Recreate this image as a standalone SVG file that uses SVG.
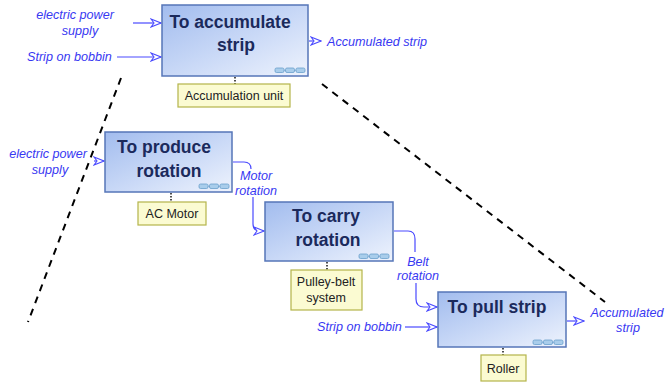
<svg xmlns="http://www.w3.org/2000/svg" width="665" height="385" viewBox="0 0 665 385">
<defs>
  <linearGradient id="boxg" x1="0" y1="0" x2="1" y2="1">
    <stop offset="0" stop-color="#a2bcee"/>
    <stop offset="0.55" stop-color="#cbdaf7"/>
    <stop offset="1" stop-color="#eef3fd"/>
  </linearGradient>
  <marker id="ah" viewBox="0 0 12 10" refX="11" refY="5" markerWidth="12" markerHeight="10" markerUnits="userSpaceOnUse" orient="auto">
    <path d="M1,1 L11,5 L1,9 L4,5 Z" fill="#fff" stroke="#4a4aff" stroke-width="1.1" stroke-linejoin="miter"/>
  </marker>
  <g id="icon">
    <rect x="0" y="0" width="9" height="4.5" rx="1.5" fill="#a9cdeb" stroke="#6aa0cc" stroke-width="0.8"/>
    <rect x="10.5" y="0" width="9" height="4.5" rx="1.5" fill="#a9cdeb" stroke="#6aa0cc" stroke-width="0.8"/>
    <rect x="21" y="0" width="9" height="4.5" rx="1.5" fill="#a9cdeb" stroke="#6aa0cc" stroke-width="0.8"/>
    <line x1="9" y1="2.2" x2="10.5" y2="2.2" stroke="#6aa0cc" stroke-width="0.8"/>
    <line x1="19.5" y1="2.2" x2="21" y2="2.2" stroke="#6aa0cc" stroke-width="0.8"/>
  </g>
</defs>
<style>
  .fn { fill: url(#boxg); stroke: #5676b8; stroke-width: 1.5; }
  .title { font-family: "Liberation Sans", Arial, sans-serif; font-weight: bold; font-size: 17.5px; fill: #1b2a5c; text-anchor: middle; }
  .res { fill: #fbfbd2; stroke: #b4b44a; stroke-width: 1.2; }
  .rtext { font-family: "Liberation Sans", Arial, sans-serif; font-size: 12.5px; fill: #222; text-anchor: middle; }
  .flow { font-family: "Liberation Sans", Arial, sans-serif; font-style: italic; font-size: 12.6px; fill: #3838f2; }
  .arr { fill: none; stroke: #4a4aff; stroke-width: 1.2; }
  .dot { stroke: #222; stroke-width: 1.6; stroke-dasharray: 1.5 1.5; }
  .dash { fill: none; stroke: #000; stroke-width: 2; stroke-dasharray: 7 6; }
</style>

<g id="connectors">
  <line class="dash" x1="121" y1="78" x2="28" y2="322"/>
  <line class="dash" x1="322" y1="84" x2="605" y2="302"/>
  <path class="arr" d="M133,23 H161" marker-end="url(#ah)"/>
  <path class="arr" d="M117,57 H161" marker-end="url(#ah)"/>
  <path class="arr" d="M309,41 H321" marker-end="url(#ah)"/>
  <path class="arr" d="M94,161 H104" marker-end="url(#ah)"/>
  <path class="arr" d="M233,162 H244 Q251,162 251,169"/>
  <path class="arr" d="M253,197 V224 Q253,231 260,231 H264" marker-end="url(#ah)"/>
  <path class="arr" d="M394,231 H408 Q415,231 415,239 V252"/>
  <path class="arr" d="M416,283 V299 Q416,307 424,307 H437" marker-end="url(#ah)"/>
  <path class="arr" d="M405,327 H437" marker-end="url(#ah)"/>
  <path class="arr" d="M567,321 H584" marker-end="url(#ah)"/>
  <line class="dot" x1="235" y1="77" x2="235" y2="84"/>
  <line class="dot" x1="171" y1="193" x2="171" y2="202"/>
  <line class="dot" x1="327" y1="262" x2="327" y2="270"/>
  <line class="dot" x1="503" y1="348" x2="503" y2="355"/>
</g>

<g id="flow-labels">
  <text class="flow" x="75" y="19" text-anchor="middle">electric power</text>
  <text class="flow" x="80" y="35" text-anchor="middle">supply</text>
  <text class="flow" x="27" y="61">Strip on bobbin</text>
  <text class="flow" x="327" y="46">Accumulated strip</text>
  <text class="flow" x="48" y="158" text-anchor="middle">electric power</text>
  <text class="flow" x="50" y="174" text-anchor="middle">supply</text>
  <text class="flow" x="256" y="180" text-anchor="middle">Motor</text>
  <text class="flow" x="256" y="195" text-anchor="middle">rotation</text>
  <text class="flow" x="418" y="266" text-anchor="middle">Belt</text>
  <text class="flow" x="418" y="280" text-anchor="middle">rotation</text>
  <text class="flow" x="317" y="331">Strip on bobbin</text>
  <text class="flow" x="627" y="317" text-anchor="middle">Accumulated</text>
  <text class="flow" x="628" y="332" text-anchor="middle">strip</text>
</g>

<g id="accumulate">
  <rect class="fn" x="162" y="5" width="146" height="71"/>
  <text class="title" x="230" y="28">To accumulate</text>
  <text class="title" x="236" y="51">strip</text>
  <use href="#icon" x="275" y="68"/>
</g>
<g id="accumulation-unit">
  <rect class="res" x="178" y="84" width="112" height="23"/>
  <text class="rtext" x="234" y="100">Accumulation unit</text>
</g>

<g id="produce">
  <rect class="fn" x="105" y="132" width="127" height="60"/>
  <text class="title" x="164" y="153">To produce</text>
  <text class="title" x="169" y="177">rotation</text>
  <use href="#icon" x="199" y="184"/>
</g>
<g id="ac-motor">
  <rect class="res" x="138" y="202" width="68" height="23"/>
  <text class="rtext" x="172" y="218">AC Motor</text>
</g>

<g id="carry">
  <rect class="fn" x="265" y="202" width="128" height="59"/>
  <text class="title" x="326" y="222">To carry</text>
  <text class="title" x="328" y="246">rotation</text>
  <use href="#icon" x="359" y="254"/>
</g>
<g id="pulley">
  <rect class="res" x="291" y="270" width="71" height="40"/>
  <text class="rtext" x="326" y="286">Pulley-belt</text>
  <text class="rtext" x="326" y="302">system</text>
</g>

<g id="pull">
  <rect class="fn" x="438" y="292" width="128" height="55"/>
  <text class="title" x="497" y="313">To pull strip</text>
  <use href="#icon" x="533" y="340"/>
</g>
<g id="roller">
  <rect class="res" x="481" y="355" width="45" height="26"/>
  <text class="rtext" x="503" y="373">Roller</text>
</g>
</svg>
